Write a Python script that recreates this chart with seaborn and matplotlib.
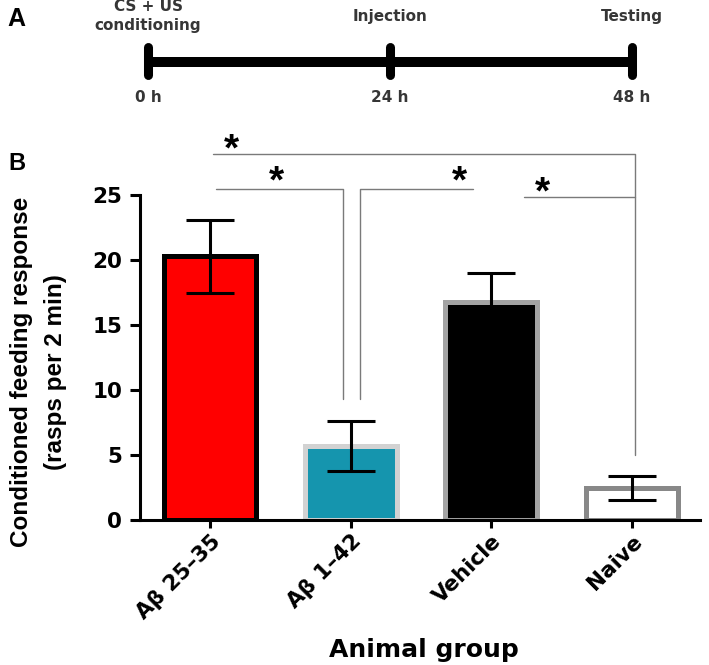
import matplotlib
matplotlib.use("Agg")
import matplotlib.pyplot as plt
import seaborn as sns

# panel B data
groups = ["Aβ 25–35", "Aβ 1–42", "Vehicle", "Naive"]
means = [20.3, 5.7, 16.8, 2.45]
sems = [2.8, 1.95, 2.2, 0.92]
fill_colors = ["#ff0000", "#1595ae", "#000000", "#ffffff"]
edge_colors = ["#000000", "#d2d2d2", "#a3a3a3", "#888888"]
y_ticks = [0, 5, 10, 15, 20, 25]

# panel A timeline
timeline_hours = [0, 24, 48]
timeline_events = ["CS + US\nconditioning", "Injection", "Testing"]
timeline_ticks = ["0 h", "24 h", "48 h"]

# significance brackets: line vertices (bar index, value), star position
brackets = [
    ([(0.02, 28.15), (3.02, 28.15), (3.02, 5.0)], (0.155, 29.0)),
    ([(0.04, 25.46), (0.945, 25.46), (0.945, 9.3)], (0.47, 26.5)),
    ([(1.066, 9.3), (1.066, 25.46), (1.87, 25.46)], (1.77, 26.5)),
    ([(2.23, 24.85), (3.02, 24.85)], (2.36, 25.7)),
]

sns.set_theme(style="ticks")
plt.rcParams["font.family"] = ["DejaVu Sans"]
plt.rcParams["font.weight"] = "bold"
plt.rcParams["text.color"] = "black"
plt.rcParams["axes.labelcolor"] = "black"

fig = plt.figure(figsize=(7.09, 6.65), dpi=100)

# ---- panel A ----
ax_a = fig.add_axes([0, 535 / 665, 1, 130 / 665])
ax_a.set_xlim(-14.68, 55.64)
ax_a.set_ylim(130, 0)
ax_a.axis("off")
ax_a.plot([timeline_hours[0], timeline_hours[-1]], [62, 62], color="black",
          lw=7.2, solid_capstyle="butt")
caps = ax_a.vlines(timeline_hours, 47, 75, color="black", lw=6.5)
caps.set_capstyle("round")
for h, ev, tk in zip(timeline_hours, timeline_events, timeline_ticks):
    ax_a.text(h, 16, ev, ha="center", va="center", fontsize=11,
              fontweight="bold", color="#363636", linespacing=1.3)
    ax_a.text(h, 97, tk, ha="center", va="center", fontsize=11,
              fontweight="bold", color="#363636")
fig.text(16 / 709, 1 - 19 / 665, "A", ha="center", va="center", fontsize=18,
         fontweight="bold", family=["Liberation Sans Narrow", "Liberation Sans"])

# ---- panel B ----
ax = fig.add_axes([140 / 709, 145 / 665, 560 / 709, 390 / 665])
sns.barplot(x=groups, y=means, hue=groups, palette=fill_colors, width=0.655,
            saturation=1, errorbar=None, legend=False, ax=ax, zorder=2)
for patch, ec in zip(ax.patches, edge_colors):
    patch.set_edgecolor(ec)
    patch.set_linewidth(3.6)
ax.errorbar(range(len(groups)), means, yerr=sems, fmt="none", ecolor="black",
            elinewidth=2.2, capsize=17, capthick=2.2, zorder=3)

ax.set_xlim(-0.4975, 3.4826)
ax.set_ylim(0, 30)
ax.set_yticks(y_ticks)
ax.spines["left"].set_bounds(0, 25)
for side in ["top", "right"]:
    ax.spines[side].set_visible(False)
for side in ["left", "bottom"]:
    ax.spines[side].set_linewidth(2.2)
    ax.spines[side].set_color("black")
ax.tick_params(axis="y", length=7.2, width=2.2, pad=5.8, labelsize=15.5,
               colors="black")
ax.tick_params(axis="x", length=6, width=2.2, pad=2, labelsize=15.5,
               colors="black")
ax.set_xticks(range(len(groups)))
ax.set_xticklabels(groups, rotation=45, ha="right", rotation_mode="anchor",
                   fontweight="bold")
for lab in ax.get_yticklabels():
    lab.set_fontweight("bold")

ax.set_ylabel("Conditioned feeding response\n(rasps per 2 min)", fontsize=17.5,
              fontweight="bold", linespacing=1.6, family=["Liberation Sans"])
ax.yaxis.set_label_coords(-0.13, 0.38)
ax.set_xlabel("Animal group", fontsize=18, fontweight="bold")
ax.xaxis.set_label_coords(0.507, -0.303)

for pts, (sx, sy) in brackets:
    xs = [p[0] for p in pts]
    ys = [p[1] for p in pts]
    ax.plot(xs, ys, color="#7a7a7a", lw=1.0, clip_on=False, zorder=1)
    ax.annotate("*", xy=(sx, sy), xytext=(0, -12.5), textcoords="offset points",
                ha="center", va="baseline", fontsize=28, fontweight="bold",
                color="black", annotation_clip=False, family=["Liberation Sans"])

fig.text(17 / 709, 1 - 163 / 665, "B", ha="center", va="center", fontsize=17,
         fontweight="bold", family=["Liberation Sans"])

fig.savefig("out.png", dpi=100)
